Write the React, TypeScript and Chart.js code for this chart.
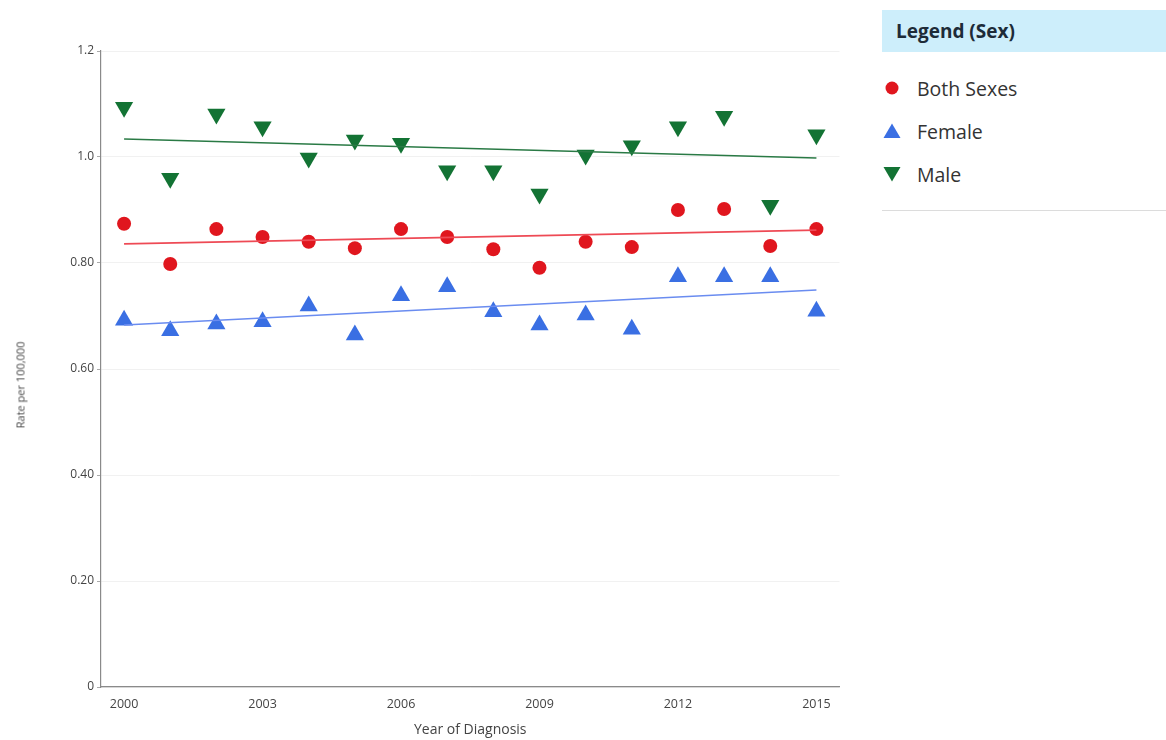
import React, { useEffect, useRef } from "react";
import { Chart, registerables } from "chart.js";

Chart.register(...registerables);

// Diagnosis years on the x axis
const years = [2000, 2001, 2002, 2003, 2004, 2005, 2006, 2007, 2008, 2009, 2010, 2011, 2012, 2013, 2014, 2015];
const yearTicks = [2000, 2003, 2006, 2009, 2012, 2015];

// Rate per 100,000 by sex
const bothSexes = [0.874, 0.798, 0.864, 0.849, 0.84, 0.828, 0.864, 0.849, 0.826, 0.791, 0.84, 0.83, 0.9, 0.902, 0.832, 0.864];
const female = [0.692, 0.672, 0.685, 0.689, 0.719, 0.664, 0.738, 0.755, 0.708, 0.683, 0.702, 0.675, 0.774, 0.774, 0.774, 0.709];
const male = [1.094, 0.96, 1.081, 1.057, 0.998, 1.032, 1.026, 0.974, 0.974, 0.93, 1.004, 1.021, 1.057, 1.077, 0.909, 1.042];

// Fitted trend endpoints (first and last year)
const trendYears = [2000, 2015];
const bothTrend = [0.836, 0.862];
const femaleTrend = [0.683, 0.749];
const maleTrend = [1.034, 0.998];

// Y axis tick values and their printed labels
const rateTicks = [0, 0.2, 0.4, 0.6, 0.8, 1.0, 1.2];
const rateLabels = ["0", "0.20", "0.40", "0.60", "0.80", "1.0", "1.2"];

const RED = "#e0161e";
const BLUE = "#3a6fe3";
const GREEN = "#137334";
const FONT = "'Open Sans', Lato, sans-serif";

const toPoints = (xs: number[], ys: number[]) => xs.map((x, i) => ({ x, y: ys[i] }));

function LegendMarker({ kind }: { kind: "circle" | "up" | "down" }) {
  return (
    <svg width="20" height="20" viewBox="0 0 20 20" style={{ display: "block" }}>
      {kind === "circle" && <circle cx="10" cy="10" r="6.5" fill={RED} />}
      {kind === "up" && <polygon points="10,2.5 18.5,17 1.5,17" fill={BLUE} />}
      {kind === "down" && <polygon points="1.5,3 18.5,3 10,17.5" fill={GREEN} />}
    </svg>
  );
}

export default function App() {
  const canvasRef = useRef<HTMLCanvasElement | null>(null);

  useEffect(() => {
    if (!canvasRef.current) return;
    const trendStyle = (color: string) => ({
      type: "line" as const,
      showLine: true,
      borderColor: color,
      borderWidth: 1.6,
      pointRadius: 0,
      fill: false,
    });
    const chart = new Chart(canvasRef.current, {
      type: "scatter",
      data: {
        datasets: [
          { label: "Male trend", data: toPoints(trendYears, maleTrend), ...trendStyle("#2a7a45") },
          { label: "Both Sexes trend", data: toPoints(trendYears, bothTrend), ...trendStyle("#ee4a55") },
          { label: "Female trend", data: toPoints(trendYears, femaleTrend), ...trendStyle("#6a8cf0") },
          {
            label: "Both Sexes",
            data: toPoints(years, bothSexes),
            pointStyle: "circle",
            pointRadius: 7,
            backgroundColor: RED,
            borderColor: RED,
            borderWidth: 0,
          },
          {
            label: "Female",
            data: toPoints(years, female),
            pointStyle: "triangle",
            pointRadius: 10.5,
            backgroundColor: BLUE,
            borderColor: BLUE,
            borderWidth: 0,
          },
          {
            label: "Male",
            data: toPoints(years, male),
            pointStyle: "triangle",
            pointRotation: 180,
            pointRadius: 10.5,
            backgroundColor: GREEN,
            borderColor: GREEN,
            borderWidth: 0,
          },
        ] as any,
      },
      options: {
        animation: false,
        responsive: false,
        maintainAspectRatio: false,
        layout: { padding: { top: 51, right: 8, left: 0, bottom: 0 } },
        plugins: { legend: { display: false }, tooltip: { enabled: false } },
        scales: {
          x: {
            type: "linear",
            min: 1999.5,
            max: 2015.5,
            afterBuildTicks: (s: any) => {
              s.ticks = yearTicks.map((v) => ({ value: v }));
            },
            afterFit: (s: any) => {
              s.height = 53;
            },
            grid: { display: false, drawTicks: false },
            border: { display: true, color: "#8a8a8a", width: 1.2 },
            ticks: {
              padding: 10,
              color: "#444",
              font: { family: FONT, size: 12.5 },
              callback: (v: any) => String(v),
            },
            title: {
              display: true,
              text: "Year of Diagnosis",
              color: "#444",
              font: { family: FONT, size: 14 },
              padding: { top: 4, bottom: 2 },
            },
          },
          y: {
            type: "linear",
            min: 0,
            max: 1.2,
            afterBuildTicks: (s: any) => {
              s.ticks = rateTicks.map((v) => ({ value: v }));
            },
            afterFit: (s: any) => {
              s.width = 101;
            },
            grid: { color: "#f1f1f1", tickLength: 4, tickColor: "#aaa", lineWidth: 1 },
            border: { display: true, color: "#8a8a8a", width: 1.2 },
            ticks: {
              padding: 3,
              color: "#444",
              font: { family: FONT, size: 12 },
              callback: (v: any) => {
                const i = rateTicks.findIndex((t) => Math.abs(t - Number(v)) < 1e-6);
                return i >= 0 ? rateLabels[i] : "";
              },
            },
            title: { display: false },
          },
        },
      },
    });
    return () => chart.destroy();
  }, []);

  return (
    <div
      style={{
        position: "fixed",
        left: 0,
        top: 0,
        width: 1166,
        height: 740,
        background: "#fff",
        fontFamily: FONT,
        overflow: "hidden",
      }}
    >
      <canvas
        ref={canvasRef}
        width={850}
        height={740}
        style={{ position: "absolute", left: 0, top: 0, width: 850, height: 740 }}
      />
      {/* rotated y axis title */}
      <div
        style={{
          position: "absolute",
          left: 20,
          top: 385,
          transform: "translate(-50%, -50%) rotate(-90deg)",
          fontSize: 11,
          color: "#444",
          whiteSpace: "nowrap",
        }}
      >
        Rate per 100,000
      </div>
      <div style={{ position: "absolute", left: 882, top: 10, width: 284 }}>
        <div
          style={{
            height: 42,
            background: "#cdeefb",
            display: "flex",
            alignItems: "center",
            paddingLeft: 14,
            fontWeight: 700,
            fontSize: 19,
            color: "#1d2b38",
          }}
        >
          Legend (Sex)
        </div>
        {[
          { kind: "circle" as const, label: "Both Sexes", top: 78 },
          { kind: "up" as const, label: "Female", top: 121 },
          { kind: "down" as const, label: "Male", top: 164 },
        ].map((item) => (
          <div
            key={item.label}
            style={{
              position: "absolute",
              top: item.top - 10,
              left: 0,
              height: 20,
              display: "flex",
              alignItems: "center",
            }}
          >
            <div style={{ position: "absolute", left: 0 }}>
              <LegendMarker kind={item.kind} />
            </div>
            <span style={{ position: "absolute", left: 35, fontSize: 19.5, color: "#333", whiteSpace: "nowrap" }}>
              {item.label}
            </span>
          </div>
        ))}
        <div style={{ position: "absolute", top: 200, left: 0, width: 284, height: 1, background: "#dcdcdc" }} />
      </div>
    </div>
  );
}
